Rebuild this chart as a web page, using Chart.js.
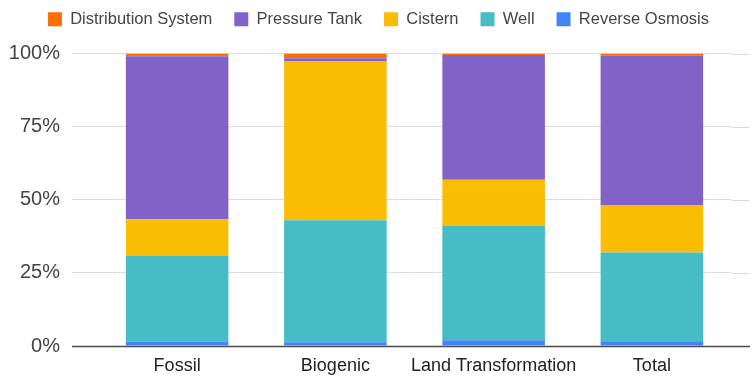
<!DOCTYPE html>
<html>
<head>
<meta charset="utf-8">
<script src="https://cdn.jsdelivr.net/npm/chart.js@4/dist/chart.umd.min.js"></script>
<style>
  html, body { margin: 0; padding: 0; background: #fff; }
  #wrap { width: 754px; height: 377px; }
</style>
</head>
<body>
<div id="wrap"><canvas id="shareChart"></canvas></div>
<script>
const categories = ["Fossil", "Biogenic", "Land Transformation", "Total"];

// share of each stage, percent (bottom of the stack first)
const reverseOsmosis = [1.5, 1.3, 2.0, 1.6];
const well = [29.3, 41.7, 39.0, 30.4];
const cistern = [12.5, 54.3, 15.8, 16.0];
const pressureTank = [55.8, 1.1, 42.7, 51.2];
const distributionSystem = [0.9, 1.6, 0.5, 0.8];

const yTicks = [0, 25, 50, 75, 100];

const FONT = "'Liberation Sans', Arial, sans-serif";
const GRID = "#dcdcdc";
const BASE = "#4a4a4a";

// gridlines run a little past the plot on the right, baseline sits over the bars
const gridExtend = {
  id: "gridExtend",
  beforeDatasetsDraw(chart) {
    const { ctx, chartArea, scales } = chart;
    ctx.save();
    ctx.strokeStyle = GRID;
    ctx.lineWidth = 1;
    yTicks.forEach(v => {
      if (v === 0) return;
      const y = Math.round(scales.y.getPixelForValue(v)) + 0.5;
      ctx.beginPath(); ctx.moveTo(chartArea.right, y); ctx.lineTo(750, y); ctx.stroke();
    });
    ctx.restore();
  },
  afterDatasetsDraw(chart) {
    const { ctx, scales } = chart;
    const y = Math.round(scales.y.getPixelForValue(0)) + 0.5;
    ctx.save();
    ctx.strokeStyle = BASE;
    ctx.lineWidth = 1.5;
    ctx.beginPath(); ctx.moveTo(72, y); ctx.lineTo(750, y); ctx.stroke();
    ctx.restore();
  }
};

// extra room under the legend
const legendGap = {
  id: "legendGap",
  beforeInit(chart) {
    const fit = chart.legend.fit;
    chart.legend.fit = function () { fit.call(this); this.height += 16; };
  }
};

function ds(label, data, color) {
  return { label, data, backgroundColor: color, borderWidth: 0, barPercentage: 0.648, categoryPercentage: 1 };
}

new Chart(document.getElementById("shareChart"), {
  type: "bar",
  data: {
    labels: categories,
    datasets: [
      ds("Reverse Osmosis", reverseOsmosis, "#4285f4"),
      ds("Well", well, "#46bdc6"),
      ds("Cistern", cistern, "#fbbc04"),
      ds("Pressure Tank", pressureTank, "#8162c8"),
      ds("Distribution System", distributionSystem, "#ff6d01")
    ]
  },
  options: {
    responsive: true,
    maintainAspectRatio: false,
    animation: false,
    layout: { padding: { left: 0, right: 23, top: -11, bottom: 0 } },
    plugins: {
      tooltip: { enabled: false },
      legend: {
        position: "top",
        align: "end",
        reverse: true,
        labels: {
          font: { family: FONT, size: 16.5 },
          color: "#444",
          boxWidth: 14,
          boxHeight: 14,
          padding: 22
        }
      }
    },
    scales: {
      x: {
        stacked: true,
        grid: { display: false, drawTicks: false },
        border: { display: false },
        afterFit: axis => { axis.height = 31; },
        ticks: { font: { family: FONT, size: 18 }, color: "#222", padding: 9, maxRotation: 0, autoSkip: false }
      },
      y: {
        stacked: true,
        min: 0,
        max: 100,
        afterBuildTicks: axis => { axis.ticks = yTicks.map(v => ({ value: v })); },
        afterFit: axis => { axis.width = 98; },
        grid: { color: GRID, tickLength: 26, tickColor: GRID },
        border: { display: false },
        ticks: { font: { family: FONT, size: 20 }, color: "#444", padding: 12, callback: v => v + "%" }
      }
    }
  },
  plugins: [gridExtend, legendGap]
});
</script>
</body>
</html>
